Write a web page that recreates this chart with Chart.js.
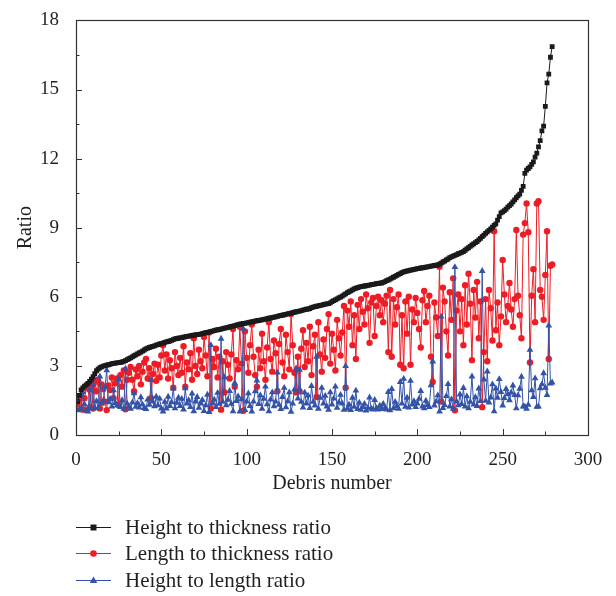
<!DOCTYPE html>
<html>
<head>
<meta charset="utf-8">
<script src="https://cdn.jsdelivr.net/npm/chart.js@4.4.1/dist/chart.umd.min.js"></script>
<style>
  html, body { margin: 0; padding: 0; background: #ffffff; }
  #wrap { width: 616px; height: 596px; }
</style>
</head>
<body>
<div id="wrap"><canvas id="c" width="616" height="596"></canvas></div>
<script>
// Height to thickness ratio (sorted ascending)
const heightToThickness = [
1.45,1.72,1.96,2.05,2.12,2.18,2.24,2.33,2.42,2.53,
2.66,2.79,2.86,2.92,2.96,2.99,3.01,3.03,3.05,3.07,
3.10,3.11,3.12,3.13,3.14,3.15,3.17,3.20,3.23,3.27,
3.31,3.35,3.39,3.44,3.48,3.52,3.56,3.60,3.64,3.69,
3.74,3.77,3.80,3.83,3.85,3.87,3.90,3.92,3.95,3.97,
3.99,4.02,4.04,4.06,4.08,4.11,4.14,4.17,4.19,4.20,
4.22,4.23,4.25,4.26,4.28,4.29,4.30,4.32,4.33,4.35,
4.36,4.37,4.38,4.40,4.42,4.44,4.45,4.47,4.49,4.51,
4.53,4.55,4.57,4.58,4.60,4.62,4.64,4.65,4.67,4.69,
4.71,4.73,4.75,4.77,4.79,4.81,4.82,4.84,4.85,4.87,
4.88,4.90,4.91,4.93,4.94,4.96,4.97,4.99,5.00,5.02,
5.03,5.05,5.07,5.08,5.10,5.12,5.13,5.15,5.17,5.19,
5.20,5.22,5.24,5.26,5.28,5.29,5.31,5.33,5.35,5.37,
5.38,5.40,5.42,5.44,5.46,5.47,5.49,5.53,5.55,5.57,
5.59,5.61,5.63,5.64,5.66,5.68,5.69,5.70,5.74,5.79,
5.83,5.87,5.91,5.95,5.99,6.03,6.08,6.13,6.18,6.22,
6.26,6.30,6.34,6.37,6.40,6.42,6.44,6.45,6.47,6.48,
6.50,6.51,6.53,6.54,6.55,6.57,6.58,6.59,6.60,6.63,
6.66,6.70,6.73,6.77,6.81,6.85,6.89,6.93,6.97,7.01,
7.05,7.08,7.10,7.12,7.14,7.16,7.17,7.19,7.20,7.22,
7.23,7.25,7.26,7.27,7.29,7.30,7.31,7.33,7.34,7.36,
7.37,7.38,7.42,7.46,7.51,7.55,7.60,7.64,7.70,7.73,
7.77,7.80,7.83,7.87,7.90,7.93,7.96,8.02,8.08,8.13,
8.19,8.25,8.30,8.35,8.40,8.47,8.54,8.61,8.68,8.75,
8.82,8.88,8.95,9.02,9.10,9.17,9.33,9.48,9.64,9.69,
9.74,9.81,9.89,9.96,10.03,10.12,10.21,10.30,10.38,10.46,
10.62,10.79,11.36,11.50,11.57,11.64,11.75,11.86,12.06,12.24,
12.51,12.78,13.20,13.41,14.27,15.29,15.67,16.40,16.86
];

// Length to thickness ratio
const lengthToThickness = [
1.35,1.55,1.70,1.10,1.60,2.05,2.20,1.20,2.10,1.15,
2.30,1.90,2.40,1.15,2.20,2.00,1.45,1.08,2.15,1.95,
2.50,1.60,2.25,2.45,1.30,2.60,2.10,2.80,1.12,2.40,
2.70,2.95,2.40,1.90,2.85,2.55,3.00,2.20,2.75,3.15,
3.30,2.45,2.90,1.60,2.65,3.10,2.35,3.05,2.50,3.45,
3.90,2.80,3.50,2.45,3.25,2.90,2.05,3.60,3.00,2.60,
3.35,2.70,3.85,2.10,3.15,2.85,3.55,2.40,4.20,3.00,
2.65,3.70,3.20,2.90,4.25,3.45,2.55,4.45,1.15,3.30,
2.95,3.75,2.50,3.40,1.10,3.20,1.85,3.60,3.05,2.45,
3.50,4.60,2.10,3.25,2.85,4.70,3.10,1.05,4.50,3.35,
2.70,3.90,4.80,3.40,2.60,2.10,3.70,2.90,4.40,3.20,
2.40,3.80,4.90,3.30,2.75,4.10,3.55,1.90,3.95,4.60,
3.15,2.55,4.35,3.60,2.85,5.25,3.90,2.70,1.85,3.40,
1.90,3.75,4.55,2.95,4.00,3.20,4.70,2.60,3.85,4.35,
1.65,4.90,3.50,2.75,4.15,3.35,4.60,5.25,3.10,4.40,
3.70,2.80,5.00,4.20,3.45,4.45,5.60,2.05,5.40,4.70,
5.80,3.90,5.20,3.30,5.65,4.60,5.90,5.35,4.80,6.10,
5.50,4.00,5.75,5.95,4.30,5.60,6.00,5.20,5.85,4.90,
5.70,6.05,3.60,6.30,3.40,5.90,4.80,5.55,6.10,3.05,
5.20,2.90,5.80,4.40,6.00,3.05,5.45,4.90,5.95,5.30,
4.60,3.80,5.85,6.25,4.90,5.60,6.05,3.40,2.30,5.75,
5.10,4.30,7.30,1.45,6.40,5.80,4.50,3.45,6.20,5.00,
6.80,1.07,5.40,6.10,4.50,5.90,3.90,6.50,4.80,7.00,
5.70,3.25,6.30,5.10,6.65,4.20,5.80,1.21,3.60,5.90,
3.20,6.30,5.50,4.10,8.85,4.55,5.75,3.90,5.15,7.60,
6.10,4.90,5.60,6.60,5.45,4.70,5.90,8.90,6.05,5.20,
4.20,8.70,9.20,10.05,8.80,3.15,6.05,7.20,4.90,10.05,
10.15,6.30,6.00,5.00,6.95,8.85,3.30,7.35,7.40
];

// Height to length ratio
const heightToLength = [
1.07,1.11,1.15,1.86,1.33,1.06,1.02,1.94,1.15,2.20,
1.16,1.47,1.19,2.54,1.35,1.50,2.08,2.81,1.42,1.57,
1.24,1.94,1.39,1.28,2.42,1.21,1.51,1.14,2.88,1.36,
1.23,1.14,1.41,1.81,1.22,1.38,1.19,1.64,1.32,1.17,
1.13,1.54,1.31,2.39,1.45,1.25,1.66,1.29,1.58,1.15,
1.02,1.44,1.15,1.66,1.26,1.42,2.02,1.16,1.40,1.62,
1.26,1.57,1.10,2.03,1.36,1.51,1.21,1.80,1.03,1.45,
1.65,1.18,1.37,1.52,1.04,1.29,1.75,1.00,3.90,1.37,
1.54,1.21,1.83,1.35,4.18,1.44,2.51,1.29,1.53,1.91,
1.35,1.03,2.26,1.47,1.68,1.02,1.55,4.61,1.08,1.45,
1.81,1.26,1.02,1.45,1.90,2.36,1.34,1.72,1.14,1.57,
2.10,1.33,1.03,1.54,1.85,1.25,1.45,2.71,1.31,1.13,
1.65,2.05,1.20,1.46,1.85,1.01,1.36,1.97,2.89,1.58,
2.83,1.44,1.19,1.84,1.37,1.71,1.17,2.13,1.44,1.28,
3.39,1.14,1.61,2.05,1.36,1.70,1.24,1.09,1.85,1.32,
1.58,2.10,1.18,1.42,1.74,1.36,1.09,2.99,1.14,1.32,
1.08,1.62,1.22,1.93,1.13,1.40,1.09,1.21,1.35,1.06,
1.18,1.63,1.14,1.10,1.52,1.17,1.10,1.27,1.13,1.35,
1.17,1.11,1.87,1.07,2.00,1.16,1.44,1.25,1.14,2.30,
1.36,2.44,1.22,1.62,1.19,2.35,1.32,1.47,1.21,1.36,
1.57,1.91,1.24,1.16,1.49,1.30,1.21,2.16,3.19,1.28,
1.45,1.72,1.02,5.14,1.17,1.30,1.69,2.21,1.24,1.55,
1.14,7.29,1.45,1.29,1.76,1.34,2.04,1.23,1.68,1.16,
1.44,2.54,1.32,1.64,1.26,2.02,1.47,7.12,2.41,1.48,
2.76,1.41,1.63,2.20,1.03,2.02,1.62,2.43,1.87,1.28,
1.60,2.00,1.77,1.51,1.84,2.15,1.73,1.16,1.72,2.01,
2.53,1.24,1.23,1.14,1.31,3.70,1.94,1.65,2.46,1.22,
1.23,2.03,2.20,2.68,2.05,1.73,4.75,2.23,2.28
];

const seriesNames = ["Height to thickness ratio", "Length to thickness ratio", "Height to length ratio"];
const xTickLabels = [0, 50, 100, 150, 200, 250, 300];
const yTickLabels = [0, 3, 6, 9, 12, 15, 18];

const debrisNumber = heightToThickness.map((_, i) => i + 1);
const toPoints = arr => arr.map((v, i) => ({ x: debrisNumber[i], y: v }));

const SERIF = "'Liberation Serif', 'Times New Roman', serif";
const COL_BLACK = '#1a1a1a';
const COL_RED = '#ee1d25';
const COL_BLUE = '#3353a8';

const framePlugin = {
  id: 'frame',
  afterDatasetsDraw(chart) {
    const { ctx, chartArea: a, scales } = chart;
    ctx.save();
    ctx.strokeStyle = '#333333';
    ctx.lineWidth = 1;
    ctx.beginPath();
    scales.x.ticks.forEach(t => {
      const px = Math.round(scales.x.getPixelForValue(t.value)) + 0.5;
      const len = xTickLabels.includes(t.value) ? 6 : 3.5;
      ctx.moveTo(px, a.bottom);
      ctx.lineTo(px, a.bottom - len);
    });
    scales.y.ticks.forEach(t => {
      const py = Math.round(scales.y.getPixelForValue(t.value)) + 0.5;
      const len = yTickLabels.includes(t.value) ? 6 : 3.5;
      ctx.moveTo(a.left, py);
      ctx.lineTo(a.left + len, py);
    });
    ctx.stroke();
    ctx.lineWidth = 1.2;
    ctx.strokeRect(Math.round(a.left) + 0.5, Math.round(a.top) + 0.5,
      Math.round(a.right - a.left), Math.round(a.bottom - a.top));
    ctx.restore();
  },
  afterDraw(chart) {
    const { ctx } = chart;
    const items = [
      { c: COL_BLACK, shape: 'rect', y: 527 },
      { c: COL_RED, shape: 'circle', y: 553 },
      { c: COL_BLUE, shape: 'triangle', y: 580 }
    ];
    ctx.save();
    items.forEach((it, i) => {
      ctx.strokeStyle = it.c;
      ctx.fillStyle = it.c;
      ctx.lineWidth = 1.2;
      ctx.beginPath();
      ctx.moveTo(76, it.y + 0.5);
      ctx.lineTo(111, it.y + 0.5);
      ctx.stroke();
      const cx = 93.5, cy = it.y + 0.5;
      ctx.beginPath();
      if (it.shape === 'rect') {
        ctx.rect(cx - 3, cy - 3, 6, 6);
      } else if (it.shape === 'circle') {
        ctx.arc(cx, cy, 3.3, 0, Math.PI * 2);
      } else {
        ctx.moveTo(cx, cy - 4);
        ctx.lineTo(cx + 3.8, cy + 2.6);
        ctx.lineTo(cx - 3.8, cy + 2.6);
        ctx.closePath();
      }
      ctx.fill();
      ctx.fillStyle = '#231f20';
      ctx.font = "21px " + SERIF;
      ctx.textBaseline = 'middle';
      ctx.textAlign = 'left';
      ctx.fillText(seriesNames[i], 125, it.y + 1);
    });
    ctx.restore();
  }
};

new Chart(document.getElementById('c'), {
  type: 'line',
  data: {
    datasets: [
      {
        label: seriesNames[0],
        data: toPoints(heightToThickness),
        borderColor: COL_BLACK,
        backgroundColor: COL_BLACK,
        borderWidth: 1,
        pointStyle: 'rect',
        pointRadius: 3.4,
        pointBorderWidth: 0,
        order: 0
      },
      {
        label: seriesNames[1],
        data: toPoints(lengthToThickness),
        borderColor: COL_RED,
        backgroundColor: COL_RED,
        borderWidth: 1,
        pointStyle: 'circle',
        pointRadius: 3.2,
        pointBorderWidth: 0,
        order: 2
      },
      {
        label: seriesNames[2],
        data: toPoints(heightToLength),
        borderColor: COL_BLUE,
        backgroundColor: COL_BLUE,
        borderWidth: 1,
        pointStyle: 'triangle',
        pointRadius: 3.9,
        pointBorderWidth: 0,
        order: 1
      }
    ]
  },
  options: {
    responsive: false,
    animation: false,
    devicePixelRatio: 1,
    layout: { padding: { top: 14, right: 28, bottom: 91, left: 0 } },
    plugins: {
      legend: { display: false },
      tooltip: { enabled: false }
    },
    elements: { line: { tension: 0 } },
    scales: {
      x: {
        type: 'linear',
        min: 0,
        max: 300,
        grid: { display: false },
        border: { display: false },
        ticks: {
          stepSize: 25,
          autoSkip: false,
          maxRotation: 0,
          padding: 6,
          color: '#231f20',
          font: { family: SERIF, size: 19 },
          callback: v => (xTickLabels.includes(v) ? String(v) : '')
        },
        title: {
          display: true,
          text: 'Debris number',
          color: '#231f20',
          font: { family: SERIF, size: 20 },
          padding: { top: 0, bottom: 9 }
        },
        afterFit: s => { s.height = 70; }
      },
      y: {
        type: 'linear',
        min: 0,
        max: 18,
        grid: { display: false },
        border: { display: false },
        ticks: {
          stepSize: 1.5,
          autoSkip: false,
          padding: 9,
          color: '#231f20',
          font: { family: SERIF, size: 19 },
          callback: v => (yTickLabels.includes(v) ? String(v) : '')
        },
        title: {
          display: true,
          text: 'Ratio',
          color: '#231f20',
          font: { family: SERIF, size: 20 },
          padding: { top: 14, bottom: 0 }
        },
        afterFit: s => { s.width = 76; }
      }
    }
  },
  plugins: [framePlugin]
});
</script>
</body>
</html>
